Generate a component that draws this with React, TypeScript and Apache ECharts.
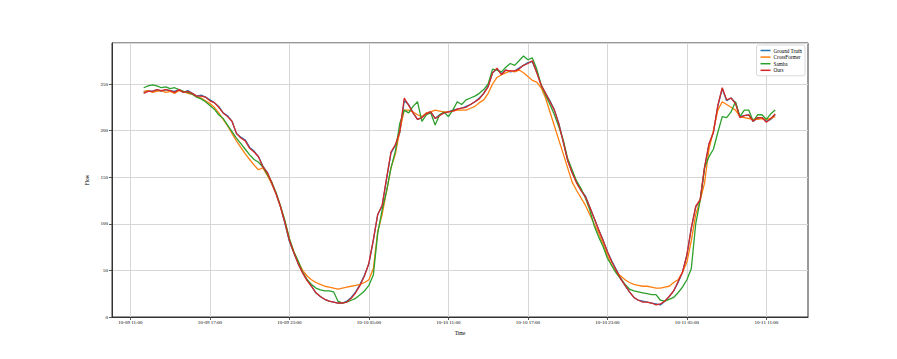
import React, { useEffect, useRef } from "react";
import * as echarts from "echarts";

// Time axis: hours since 10-09 12:00, one sample every 20 minutes
const stepHours = 1 / 3;

const xTickHours = [-1, 5, 11, 17, 23, 29, 35, 41, 47];
const xTickLabels = [
  "10-09 11:00",
  "10-09 17:00",
  "10-09 23:00",
  "10-10 05:00",
  "10-10 11:00",
  "10-10 17:00",
  "10-10 23:00",
  "10-11 05:00",
  "10-11 11:00",
];
const yTicks = [0, 50, 100, 150, 200, 250];

const seriesNames = ["Ground Truth", "CrossFormer", "Samba", "Ours"];
const seriesColors = ["#1f77b4", "#ff7f0e", "#2ca02c", "#d62728"];

const groundTruth = [
  241, 243, 242, 244, 242, 244, 243, 242, 244, 241, 243, 240,
  237, 238, 236, 233, 230, 226, 219, 216, 210, 197, 193, 190,
  182, 178, 172, 162, 155, 143, 132, 118, 100, 81, 69, 57,
  48, 40, 33, 26, 22, 19, 17, 16, 15, 15, 17, 21,
  27, 35, 45, 57, 82, 110, 119, 148, 176, 184, 198, 232,
  228, 219, 212, 214, 219, 220, 213, 217, 219, 220, 222, 223,
  224, 226, 228, 231, 235, 240, 248, 262, 266, 261, 265, 263,
  264, 267, 270, 273, 274, 263, 249, 240, 232, 222, 208, 188,
  168, 155, 145, 136, 130, 118, 106, 94, 83, 70, 60, 51,
  42, 34, 27, 21, 18, 17, 16, 15, 14, 13, 17, 22,
  28, 37, 48, 66, 95, 118, 125, 160, 185, 198, 226, 245,
  232, 235, 230, 215, 216, 217, 210, 213, 214, 210, 212, 217,
];

const crossFormer = [
  242, 243, 241, 242, 243, 241, 242, 240, 243, 242, 240, 239,
  236, 235, 232, 229, 225, 219, 212, 205, 197, 189, 182, 175,
  169, 163, 158, 160, 152, 143, 132, 118, 102, 84, 70, 59,
  50, 44, 40, 37, 35, 33, 32, 31, 30, 31, 32, 33,
  34, 35, 37, 40, 52, 92, 110, 135, 160, 175, 200, 222,
  222, 220, 217, 215, 219, 220, 222, 221, 220, 220, 221, 222,
  222, 222, 224, 226, 230, 233, 240, 250, 257, 260, 262, 264,
  263, 265, 262, 258, 254, 252, 246, 235, 220, 205, 190, 175,
  160, 145, 136, 128, 120, 110, 100, 90, 78, 66, 55, 48,
  44, 40, 37, 35, 34, 33, 33, 32, 31, 31, 32, 33,
  37, 40, 48, 59, 82, 110, 125, 144, 180, 200, 222, 231,
  228, 225, 222, 215, 214, 213, 212, 212, 213, 212, 213, 215,
];

const samba = [
  246, 248, 249, 248, 246, 247, 245, 246, 244, 242, 241, 239,
  236, 234, 231, 227, 223, 217, 213, 206, 199, 192, 186, 180,
  174, 169, 166, 161, 153, 145, 133, 119, 103, 84, 70, 60,
  48, 40, 35, 31, 29, 28, 28, 27, 17, 15, 16, 18,
  20, 24, 28, 34, 45, 90, 115, 135, 160, 178, 208, 222,
  219, 226, 231, 210, 217, 219, 206, 217, 220, 215, 222, 231,
  228, 233, 235, 237, 240, 244, 250, 266, 265, 263, 268, 272,
  270, 275, 280, 276, 278, 266, 249, 238, 228, 217, 204, 190,
  170, 158, 146, 138, 128, 115, 98, 86, 76, 63, 55, 47,
  41, 35, 30, 28, 27, 26, 25, 24, 24, 18, 17, 19,
  21, 26, 32, 40, 52, 100, 125, 160, 172, 180, 198, 215,
  214, 220, 231, 215, 222, 222, 210, 217, 217, 212, 218, 222,
];

const ours = [
  240, 242, 242, 244, 243, 244, 243, 241, 244, 241, 242, 240,
  237, 237, 236, 232, 230, 225, 219, 215, 210, 197, 192, 189,
  181, 177, 172, 161, 155, 144, 132, 118, 101, 82, 69, 57,
  47, 39, 33, 26, 22, 19, 17, 16, 15, 15, 16, 20,
  26, 34, 44, 58, 83, 110, 120, 149, 177, 185, 199, 235,
  227, 219, 212, 214, 218, 220, 213, 216, 219, 220, 221, 223,
  224, 225, 228, 231, 234, 240, 247, 262, 267, 260, 265, 264,
  264, 266, 270, 272, 275, 262, 249, 240, 231, 222, 207, 188,
  168, 155, 144, 136, 129, 118, 106, 94, 82, 70, 59, 50,
  41, 34, 27, 21, 18, 16, 16, 15, 13, 14, 17, 22,
  28, 38, 48, 67, 96, 119, 126, 161, 186, 198, 227, 246,
  233, 235, 229, 214, 216, 217, 210, 214, 214, 209, 213, 218,
];

const allSeries = [groundTruth, crossFormer, samba, ours];

const FONT = "'Liberation Serif', 'Times New Roman', serif";

export default function App() {
  const ref = useRef<HTMLDivElement>(null);

  useEffect(() => {
    if (!ref.current) return;
    const chart = echarts.init(ref.current, null, { renderer: "svg" });

    const series = allSeries.map((vals, si) => ({
      name: seriesNames[si],
      type: "line",
      data: vals.map((v, i) => [i * stepHours, v]),
      showSymbol: false,
      symbol: "none",
      lineStyle: { color: seriesColors[si], width: 1.3 },
      itemStyle: { color: seriesColors[si] },
      z: 2 + si,
    }));

    chart.setOption({
      animation: false,
      backgroundColor: "#ffffff",
      textStyle: { fontFamily: FONT },
      grid: {
        left: 112,
        top: 43,
        width: 696,
        height: 274,
        show: true,
        borderColor: "#333",
        borderWidth: 1,
        backgroundColor: "transparent",
      },
      legend: {
        orient: "vertical",
        right: 92,
        top: 45,
        data: seriesNames,
        icon: "rect",
        itemWidth: 10,
        itemHeight: 1.5,
        itemGap: 1.6,
        padding: [3, 3, 3, 4],
        backgroundColor: "#ffffff",
        borderColor: "#d0d0d0",
        borderWidth: 0.8,
        borderRadius: 2,
        textStyle: { fontFamily: FONT, fontSize: 5.2, color: "#000", padding: [0, 0, 0, -2] },
      },
      xAxis: {
        type: "value",
        min: -2.39,
        max: 50.14,
        name: "Time",
        nameLocation: "middle",
        nameGap: 13,
        nameTextStyle: { fontFamily: FONT, fontSize: 5.2, color: "#000" },
        axisLine: { show: true, onZero: false, lineStyle: { color: "#333", width: 1 } },
        axisTick: {
          show: true,
          customValues: xTickHours,
          length: 3,
          lineStyle: { color: "#333", width: 0.8 },
        },
        axisLabel: {
          customValues: xTickHours,
          formatter: (v: number) => {
            const idx = xTickHours.findIndex((t) => Math.abs(t - v) < 1e-6);
            return idx >= 0 ? xTickLabels[idx] : "";
          },
          fontFamily: FONT,
          fontSize: 5,
          color: "#000",
          margin: 3,
        },
        splitLine: { show: true, lineStyle: { color: "#d6d6d6", width: 1 } },
      },
      yAxis: {
        type: "value",
        min: 0,
        max: 294,
        interval: 50,
        name: "Flow",
        nameLocation: "middle",
        nameGap: 14,
        nameRotate: 90,
        nameTextStyle: { fontFamily: FONT, fontSize: 5.2, color: "#000" },
        axisLine: { show: true, onZero: false, lineStyle: { color: "#333", width: 1 } },
        axisTick: { show: true, length: 3, lineStyle: { color: "#333", width: 0.8 } },
        axisLabel: {
          fontFamily: FONT,
          fontSize: 5,
          color: "#000",
          margin: 4,
          showMaxLabel: false,
          formatter: (v: number) => (yTicks.includes(v) ? String(v) : ""),
        },
        splitLine: { show: true, lineStyle: { color: "#d6d6d6", width: 1 } },
      },
      series,
    });

    return () => chart.dispose();
  }, []);

  return (
    <div
      ref={ref}
      style={{ position: "absolute", left: 0, top: 0, width: 897, height: 359 }}
    />
  );
}
